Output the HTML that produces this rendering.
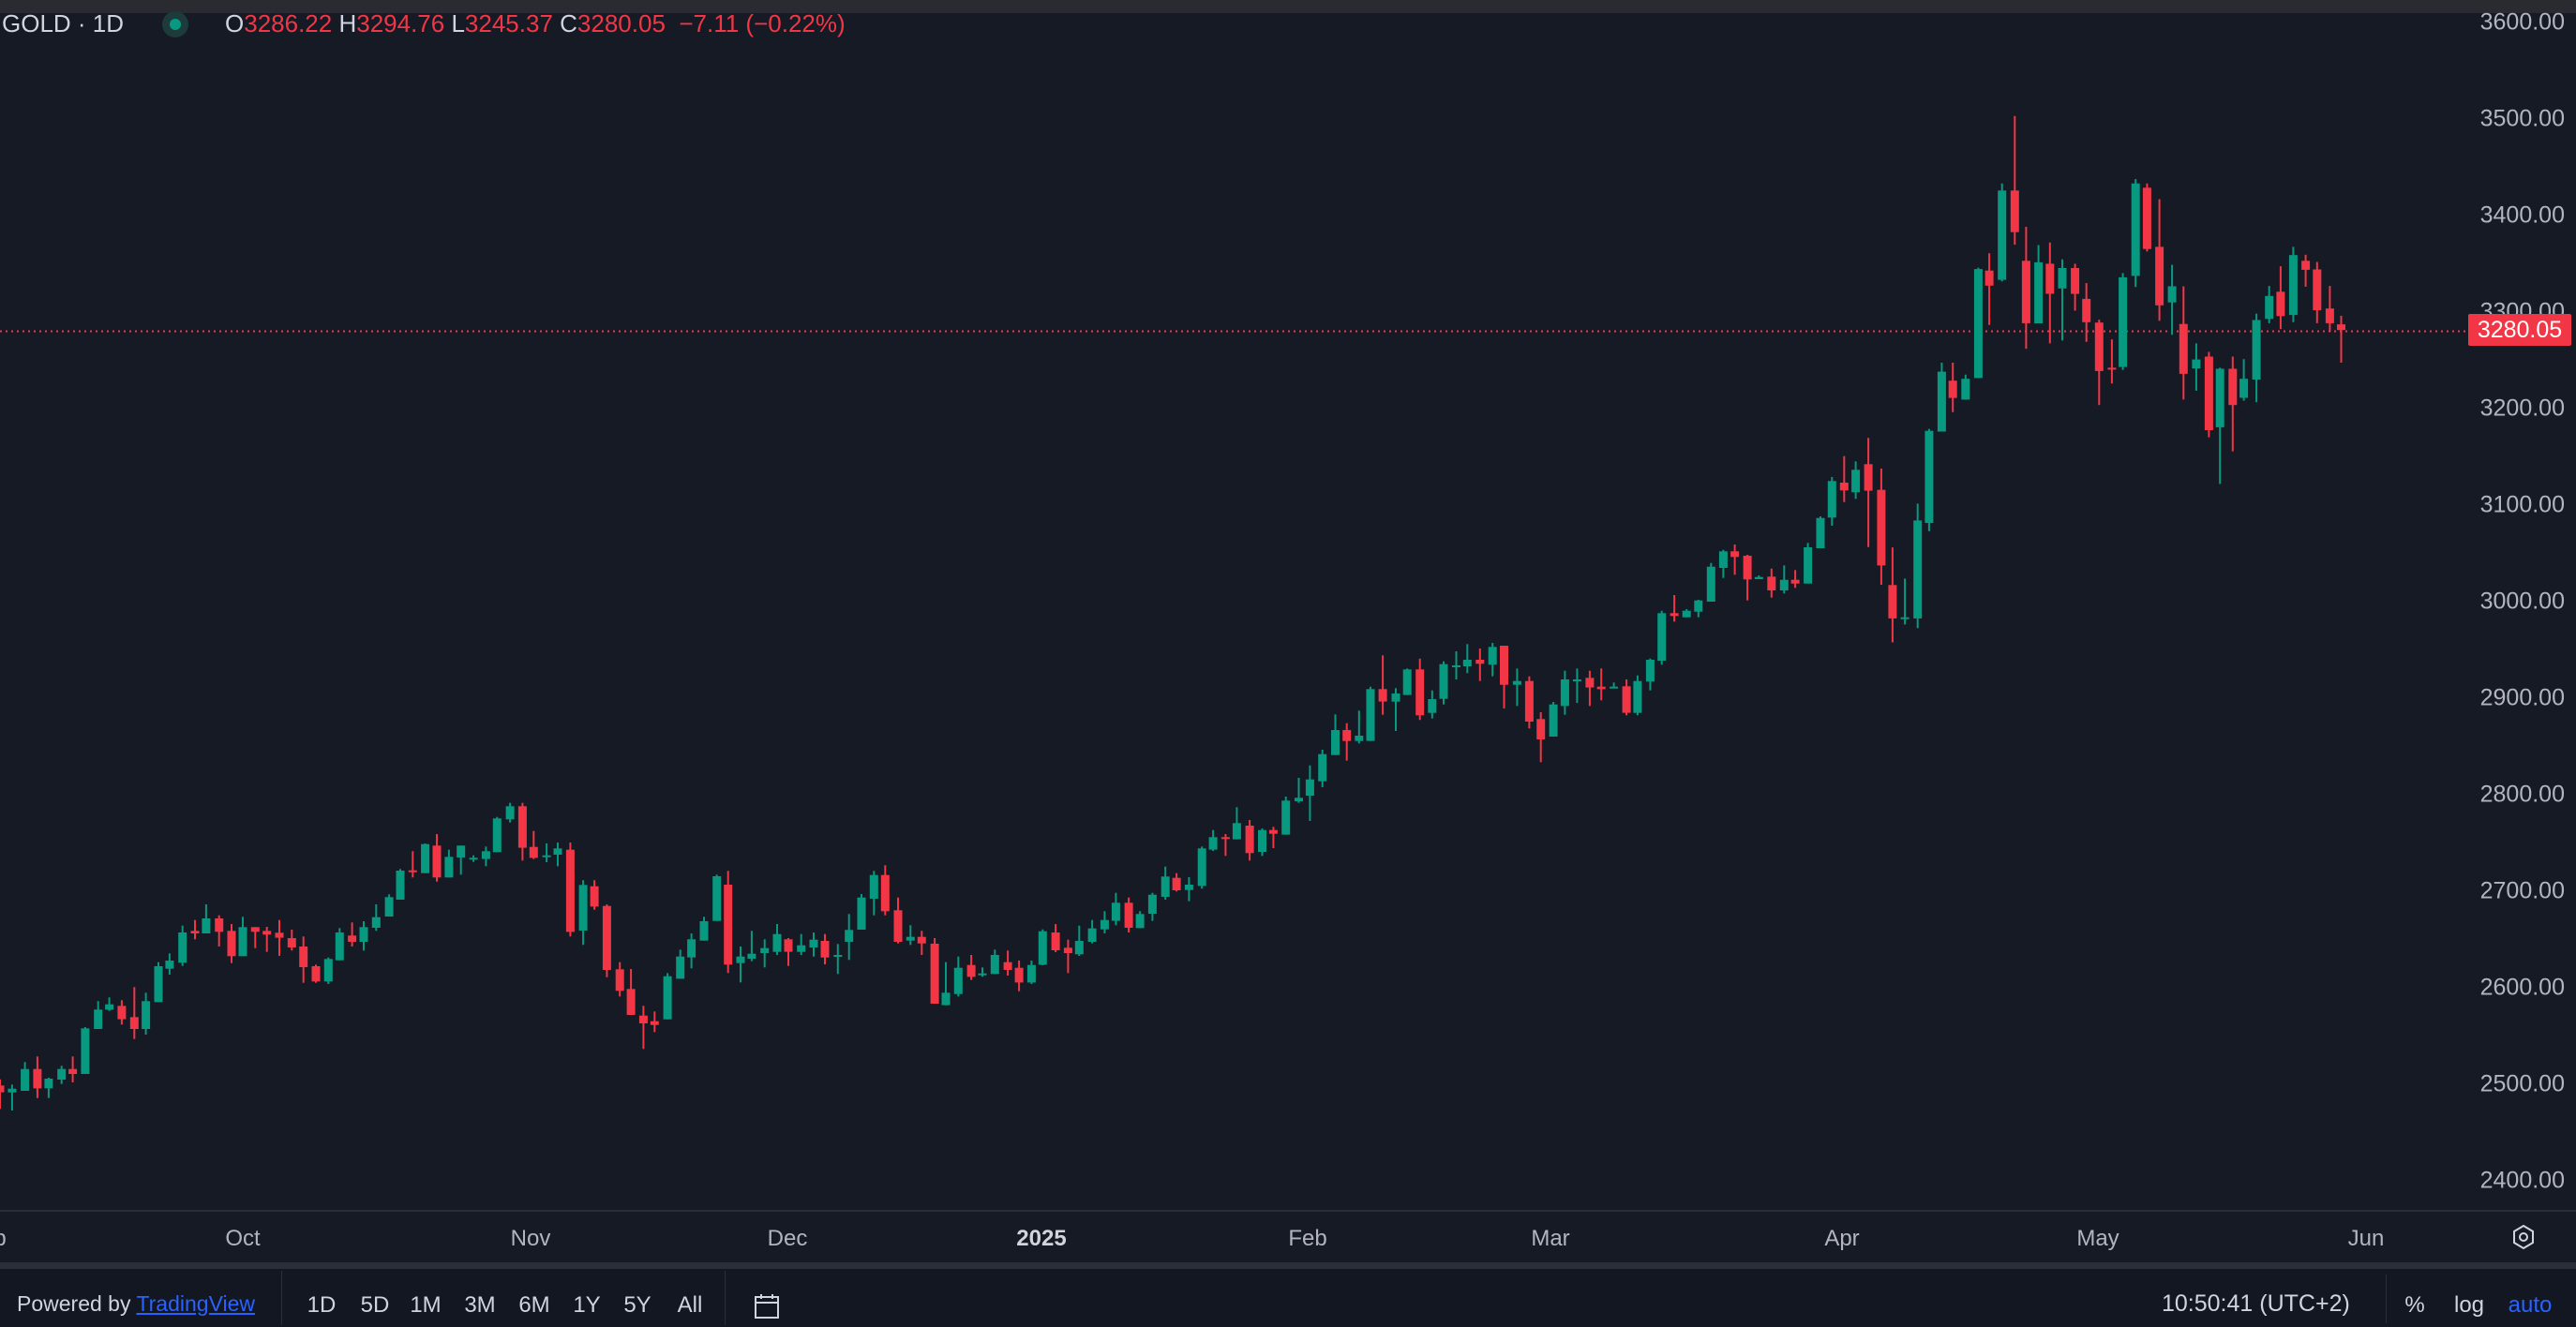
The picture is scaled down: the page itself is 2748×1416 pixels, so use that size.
<!DOCTYPE html>
<html><head><meta charset="utf-8">
<style>
html,body{margin:0;padding:0;background:#161a25;}
body{width:2748px;height:1416px;position:relative;overflow:hidden;font-family:"Liberation Sans",sans-serif;color:#d1d4dc;}
.abs{position:absolute;white-space:nowrap;}
.pl{position:absolute;right:12px;font-size:25px;color:#b2b5be;transform:translateY(-50%);}
.tl{position:absolute;top:1322px;font-size:24px;color:#b2b5be;transform:translate(-50%,-50%);}
.bt{position:absolute;top:1393px;font-size:24px;color:#d1d4dc;transform:translate(-50%,-50%);}
</style></head><body>
<div class="abs" style="left:0;top:0;width:2748px;height:14px;background:#2a2b30;"></div>
<svg id="c" class="abs" style="left:0;top:0" width="2748" height="1416"></svg>

<div class="abs" style="left:2px;top:10px;font-size:26px;color:#d1d4dc;">GOLD · 1D</div>
<div class="abs" style="left:173px;top:12px;width:28px;height:28px;border-radius:50%;background:#1d3b3a;"></div>
<div class="abs" style="left:181px;top:20px;width:12px;height:12px;border-radius:50%;background:#089981;"></div>
<div class="abs" style="left:240px;top:10px;font-size:26px;color:#f23645;"><span style="color:#d1d4dc">O</span>3286.22 <span style="color:#d1d4dc">H</span>3294.76 <span style="color:#d1d4dc">L</span>3245.37 <span style="color:#d1d4dc">C</span>3280.05 &nbsp;−7.11 (−0.22%)</div>

<div class="pl" style="top:24px">3600.00</div>
<div class="pl" style="top:127px">3500.00</div>
<div class="pl" style="top:230px">3400.00</div>
<div class="pl" style="top:333px">3300.00</div>
<div class="pl" style="top:436px">3200.00</div>
<div class="pl" style="top:539px">3100.00</div>
<div class="pl" style="top:642px">3000.00</div>
<div class="pl" style="top:745px">2900.00</div>
<div class="pl" style="top:848px">2800.00</div>
<div class="pl" style="top:951px">2700.00</div>
<div class="pl" style="top:1054px">2600.00</div>
<div class="pl" style="top:1157px">2500.00</div>
<div class="pl" style="top:1260px">2400.00</div>
<div class="abs" style="left:2633px;top:335px;width:110px;height:34px;background:#f23645;border-radius:2px;color:#fff;font-size:25px;line-height:34px;text-align:center;">3280.05</div>

<div class="abs" style="left:0;top:1291px;width:2748px;height:2px;background:#2a2e39;"></div>
<div class="tl" style="left:0px">p</div>
<div class="tl" style="left:259px">Oct</div>
<div class="tl" style="left:566px">Nov</div>
<div class="tl" style="left:840px">Dec</div>
<div class="tl" style="left:1111px;font-weight:bold;color:#d1d4dc">2025</div>
<div class="tl" style="left:1395px">Feb</div>
<div class="tl" style="left:1654px">Mar</div>
<div class="tl" style="left:1965px">Apr</div>
<div class="tl" style="left:2238px">May</div>
<div class="tl" style="left:2524px">Jun</div>
<svg class="abs" style="left:2678px;top:1306px" width="28" height="28" viewBox="0 0 28 28"><polygon points="14,2 24,8 24,20 14,26 4,20 4,8" fill="none" stroke="#d1d4dc" stroke-width="2"/><circle cx="14" cy="14" r="4" fill="none" stroke="#d1d4dc" stroke-width="2"/></svg>

<div class="abs" style="left:0;top:1347px;width:2748px;height:7px;background:#2a2e39;"></div>
<div class="abs" style="left:0;top:1354px;width:2748px;height:62px;background:#131722;"></div>
<div class="abs" style="left:18px;top:1378px;font-size:23px;color:#d1d4dc;">Powered by <span style="color:#2962ff;text-decoration:underline;">TradingView</span></div>
<div class="abs" style="left:300px;top:1356px;width:1px;height:58px;background:#2a2e39;"></div>
<div class="bt" style="left:343px">1D</div>
<div class="bt" style="left:400px">5D</div>
<div class="bt" style="left:454px">1M</div>
<div class="bt" style="left:512px">3M</div>
<div class="bt" style="left:570px">6M</div>
<div class="bt" style="left:626px">1Y</div>
<div class="bt" style="left:680px">5Y</div>
<div class="bt" style="left:736px">All</div>
<div class="abs" style="left:773px;top:1356px;width:1px;height:58px;background:#2a2e39;"></div>
<svg class="abs" style="left:802px;top:1378px" width="32" height="32" viewBox="0 0 32 32"><rect x="4" y="6" width="24" height="22" fill="none" stroke="#d1d4dc" stroke-width="2"/><line x1="4" y1="12" x2="28" y2="12" stroke="#d1d4dc" stroke-width="2"/><line x1="10" y1="3" x2="10" y2="8" stroke="#d1d4dc" stroke-width="2"/><line x1="22" y1="3" x2="22" y2="8" stroke="#d1d4dc" stroke-width="2"/></svg>
<div class="abs" style="left:2306px;top:1377px;font-size:25px;color:#d1d4dc;">10:50:41 (UTC+2)</div>
<div class="abs" style="left:2545px;top:1360px;width:1px;height:52px;background:#2a2e39;"></div>
<div class="bt" style="left:2576px">%</div>
<div class="bt" style="left:2634px">log</div>
<div class="bt" style="left:2699px;color:#2962ff">auto</div>

<script>
var Z=[
[0,820,2.178,3,[[0,0,1015,1037,995,1090],[28,1,1025,1037,1012,1095],[58,1,962,1032,940,1032],[87,0,962,1024,922,1055],[113,1,993,1024,990,1055],[143,1,962,996,952,1010],[169,0,962,978,922,1005],[198,1,832,978,828,978],[228,1,772,834,745,834],[254,1,755,772,733,776],[283,0,760,803,742,820],[312,0,796,834,700,866],[339,1,745,834,718,852],[368,1,633,748,620,748],[394,1,615,641,592,660],[424,1,525,622,503,632],[453,0,520,528,485,547],[479,1,480,528,435,528],[509,0,480,523,470,570],[538,0,520,601,498,623],[564,1,508,601,475,601],[593,0,508,523,508,575],[620,0,520,532,507,587],[649,0,526,542,485,600],[678,0,543,573,516,583],[705,0,570,636,538,686],[734,0,633,682,628,686],[763,1,610,682,605,690],[789,1,525,614,511,614],[818,0,535,555,493,570],[845,1,508,555,489,583],[874,1,476,510,435,520],[904,1,412,474,403,474],[930,1,327,420,322,420],[959,0,326,331,265,349],[988,1,242,335,240,335],[1015,0,247,349,210,362],[1043,1,283,349,260,349],[1071,1,247,285,247,340],[1100,1,286,290,278,299],[1129,1,265,290,250,313],[1155,1,160,268,155,268],[1185,1,121,163,110,173],[1214,0,121,254,110,295],[1240,0,251,286,200,290],[1270,1,278,282,240,300],[1296,1,256,276,237,313],[1325,0,260,523,237,538],[1355,1,373,519,358,565],[1381,0,377,442,358,452],[1410,0,440,645,435,668],[1440,0,643,712,620,730],[1466,0,706,789,642,789],[1495,0,791,816,760,898],[1521,0,809,821,778,844],[1551,1,665,803,655,803]]],
[700,660,2.178,3,[[56,1,1082,1153,1060,1153],[82,1,1027,1085,1008,1120],[111,1,969,1031,955,1031],[141,1,825,968,820,968],[167,0,852,1108,808,1135],[196,1,1082,1103,1050,1165],[222,1,1073,1089,1000,1097],[252,1,1055,1071,1027,1117],[281,1,1010,1067,978,1077],[307,0,1027,1067,1023,1112],[337,1,1046,1067,1010,1077],[366,1,1028,1053,1005,1082],[392,0,1032,1085,1010,1107],[422,1,1077,1081,1042,1138],[448,1,997,1035,946,1093],[477,1,893,996,882,996],[506,1,821,897,808,950],[532,0,821,937,790,950],[562,0,934,1035,893,1040],[591,1,1019,1031,982,1045],[617,0,1019,1040,1000,1077],[647,0,1041,1233,1023,1233],[673,1,1198,1238,1100,1238],[702,1,1118,1202,1082,1210],[732,0,1109,1147,1077,1157],[758,1,1136,1140,1117,1147],[787,1,1077,1138,1060,1138],[817,0,1100,1125,1063,1143],[843,0,1118,1165,1095,1193],[872,1,1109,1165,1095,1170],[898,1,1001,1108,995,1110],[928,0,1005,1062,978,1068],[957,0,1054,1071,1028,1135],[983,1,1032,1075,983,1080],[1013,1,992,1035,965,1040],[1042,1,965,995,937,1008],[1068,1,910,968,878,982],[1098,0,910,990,893,1005],[1124,1,946,991,937,991],[1153,1,884,945,878,968],[1183,1,826,891,794,900],[1209,0,830,870,815,874],[1238,1,852,869,828,905],[1268,1,736,856,730,865],[1294,1,700,740,677,744],[1323,0,700,703,690,760],[1349,1,655,707,604,707],[1379,0,663,751,645,775],[1408,1,677,747,672,760],[1434,0,677,689,667,735],[1463,1,583,692,570,692],[1493,1,574,585,510,590],[1519,1,515,567,470,648],[1548,1,434,521,420,540]]],
[1400,440,2.45,3,[[60,1,1017,1097,967,1097],[90,0,1017,1052,995,1115],[122,1,1035,1052,955,1060],[152,1,886,1052,878,1052],[184,0,886,926,778,968],[218,1,900,926,883,1020],[248,1,823,905,820,905],[281,0,823,970,788,985],[313,1,918,962,890,980],[343,1,806,917,797,935],[376,1,810,815,765,855],[405,1,792,813,742,835],[438,0,792,805,756,860],[471,1,751,808,738,845],[501,0,747,872,747,948],[535,1,860,872,820,940],[567,0,860,990,845,1012],[597,0,982,1047,960,1120],[630,1,935,1038,927,1038],[660,1,855,940,827,968],[692,1,855,859,820,930],[725,0,850,881,827,940],[755,0,878,886,820,922],[788,1,878,882,865,882],[821,0,877,962,855,970],[850,1,860,962,842,970],[883,1,792,862,788,890],[913,1,643,795,635,808],[946,0,643,652,585,670],[978,1,635,656,630,656],[1009,1,602,638,600,656],[1042,1,494,606,482,606],[1074,1,445,498,440,530],[1104,0,445,463,423,520],[1137,0,459,535,456,602],[1167,1,527,534,522,534],[1200,0,526,570,500,593],[1233,1,536,570,490,580],[1262,0,536,548,505,562],[1295,1,432,548,418,548],[1328,1,338,435,333,435],[1358,1,220,337,207,363],[1390,0,225,250,140,287],[1420,1,184,256,157,277],[1453,0,166,251,82,431],[1487,0,248,490,180,552]]],
[1960,100,2.8,2.613,[[165,0,1370,1463,1265,1530],[202,1,1460,1464,1352,1480],[240,1,1190,1463,1143,1490],[274,1,940,1197,935,1220],[312,1,775,942,750,942],[345,0,800,848,750,888],[383,1,795,853,783,853],[421,1,489,793,485,793],[454,0,493,535,445,645],[492,1,270,519,250,523],[530,0,270,386,62,421],[564,0,466,640,371,711],[601,1,470,640,422,640],[635,0,474,558,415,696],[672,1,486,543,462,688],[710,0,486,558,474,605],[744,0,572,637,528,692],[782,0,638,773,630,868],[820,0,764,766,685,808],[853,1,512,762,500,770],[891,1,250,508,238,539],[925,0,262,433,250,440],[962,0,427,590,294,633],[1000,1,537,582,477,672],[1034,0,642,781,537,853],[1072,1,741,766,696,828],[1110,0,733,938,720,958],[1143,1,767,930,764,1088],[1181,0,767,868,733,997],[1214,1,795,848,740,856],[1252,1,631,797,613,860],[1290,1,564,628,536,640],[1324,0,552,620,481,656],[1362,1,450,617,427,637],[1399,0,466,491,449,538],[1433,0,490,604,469,640],[1471,0,599,640,536,664],[1505,0,643,659,619,750]]]
];
var s='<line x1="0" y1="353.5" x2="2633" y2="353.5" stroke="#f23645" stroke-width="2" stroke-dasharray="2,4"/>';
Z.forEach(function(z){z[4].forEach(function(c){
 var x=z[0]+c[0]/z[2],t=z[1]+c[2]/z[3],b=z[1]+c[3]/z[3],h=z[1]+c[4]/z[3],l=z[1]+c[5]/z[3];
 var col=c[1]?'#089981':'#f23645';
 if(b-t<2){b=t+2;}
 s+='<line x1="'+x.toFixed(1)+'" y1="'+h.toFixed(1)+'" x2="'+x.toFixed(1)+'" y2="'+l.toFixed(1)+'" stroke="'+col+'" stroke-width="2"/>';
 s+='<rect x="'+(x-4.5).toFixed(1)+'" y="'+t.toFixed(1)+'" width="9" height="'+(b-t).toFixed(1)+'" fill="'+col+'"/>';
});});
document.getElementById('c').innerHTML=s;
</script>
</body></html>
